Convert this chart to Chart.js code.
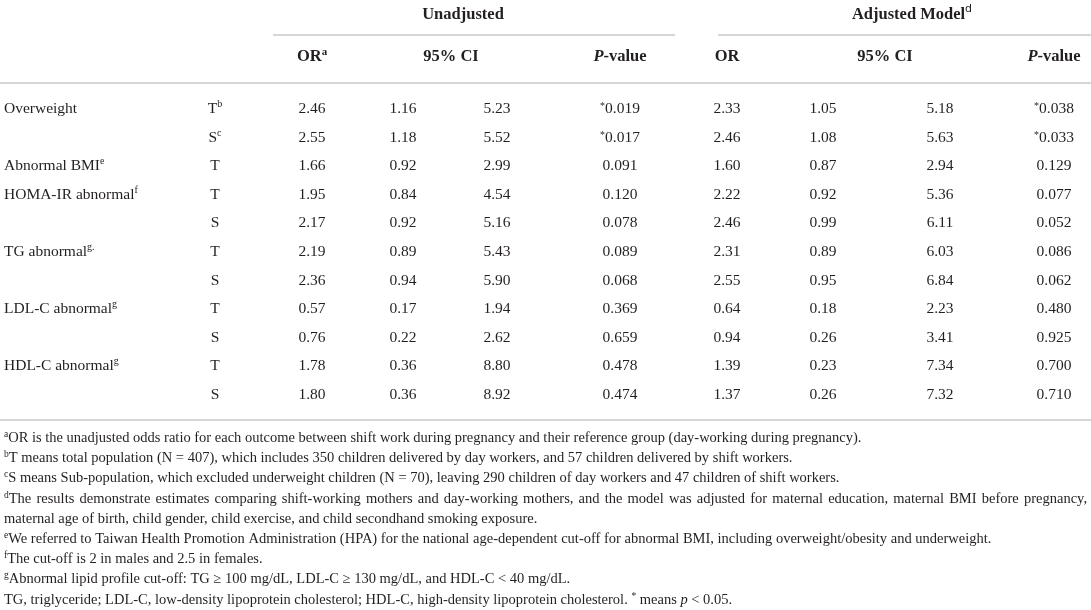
<!DOCTYPE html>
<html><head><meta charset="utf-8">
<script src="https://cdn.jsdelivr.net/npm/chart.js@4.4.1/dist/chart.umd.min.js"></script>
<style>html,body{margin:0;padding:0;background:#fff;}#wrap{position:relative;width:1091px;height:610px;}</style>
</head><body><div id="wrap"><canvas id="c"></canvas></div>
<script>
// ---- data ----
const outcomes   = ['Overweight','','Abnormal BMI','HOMA-IR abnormal','','TG abnormal','','LDL-C abnormal','','HDL-C abnormal',''];
const outcomeSup = ['','','e','f','','g.','','g','','g',''];
const groups     = ['T','S','T','T','S','T','S','T','S','T','S'];
const groupSup   = ['b','c','','','','','','','','',''];
const orUnadj    = ['2.46','2.55','1.66','1.95','2.17','2.19','2.36','0.57','0.76','1.78','1.80'];
const ciLowUnadj = ['1.16','1.18','0.92','0.84','0.92','0.89','0.94','0.17','0.22','0.36','0.36'];
const ciHighUnadj= ['5.23','5.52','2.99','4.54','5.16','5.43','5.90','1.94','2.62','8.80','8.92'];
const pUnadj     = ['*0.019','*0.017','0.091','0.120','0.078','0.089','0.068','0.369','0.659','0.478','0.474'];
const orAdj      = ['2.33','2.46','1.60','2.22','2.46','2.31','2.55','0.64','0.94','1.39','1.37'];
const ciLowAdj   = ['1.05','1.08','0.87','0.92','0.99','0.89','0.95','0.18','0.26','0.23','0.26'];
const ciHighAdj  = ['5.18','5.63','2.94','5.36','6.11','6.03','6.84','2.23','3.41','7.34','7.32'];
const pAdj       = ['*0.038','*0.033','0.129','0.077','0.052','0.086','0.062','0.480','0.925','0.700','0.710'];
const groupHeaders = ['Unadjusted','Adjusted Model'];
const columnHeaders = ['OR','95% CI','P-value','OR','95% CI','P-value'];
const footnoteMarks = ['a','b','c','d','','e','f','g',''];
const footnotes = [
 'OR is the unadjusted odds ratio for each outcome between shift work during pregnancy and their reference group (day-working during pregnancy).',
 'T means total population (N = 407), which includes 350 children delivered by day workers, and 57 children delivered by shift workers.',
 'S means Sub-population, which excluded underweight children (N = 70), leaving 290 children of day workers and 47 children of shift workers.',
 'The results demonstrate estimates comparing shift-working mothers and day-working mothers, and the model was adjusted for maternal education, maternal BMI before pregnancy,',
 'maternal age of birth, child gender, child exercise, and child secondhand smoking exposure.',
 'We referred to Taiwan Health Promotion Administration (HPA) for the national age-dependent cut-off for abnormal BMI, including overweight/obesity and underweight.',
 'The cut-off is 2 in males and 2.5 in females.',
 'Abnormal lipid profile cut-off: TG \u2265 100 mg/dL, LDL-C \u2265 130 mg/dL, and HDL-C < 40 mg/dL.',
 'TG, triglyceride; LDL-C, low-density lipoprotein cholesterol; HDL-C, high-density lipoprotein cholesterol.'
];
const rowKeys = outcomes.map((_, i) => 'row' + i);

// ---- layout (positions/styles only) ----
const colX = {label:4, group:215, or:312, lo:403, hi:497, p:620, or2:727, lo2:823, hi2:940, p2:1054};
const SERIF = '"Liberation Serif","DejaVu Serif",serif';
const TXT = '#231f20', RULE = '#c8c8c8';
const BODY = 15.5, FOOT = 14.5;
const f = (s, w, st) => `${st||'normal'} ${w||'normal'} ${s}px ${SERIF}`;

function partsWidth(ctx, parts){ let w=0; for(const p of parts){ctx.font=p.font; w+=ctx.measureText(p.t).width;} return w; }
function drawParts(ctx, parts, x, y, align){
  const w = partsWidth(ctx, parts);
  let cx = align==='center' ? x-w/2 : (align==='right' ? x-w : x);
  for(const p of parts){ ctx.font=p.font; ctx.fillText(p.t, cx, y+(p.dy||0)); cx += ctx.measureText(p.t).width; }
}
function cellParts(v){
  if (v.startsWith('*')) return [{t:'*',font:f(10),dy:-4},{t:v.slice(1),font:f(BODY)}];
  return [{t:v,font:f(BODY)}];
}

const tablePlugin = {
  id:'tableText',
  afterDraw(chart){
    const ctx = chart.ctx, xs = chart.scales.x, ys = chart.scales.y;
    const X = k => xs.getPixelForValue(colX[k]);
    ctx.save();
    ctx.fillStyle = TXT; ctx.textBaseline = 'alphabetic';
    // rules
    ctx.strokeStyle = RULE; ctx.lineWidth = 1.5;
    const hline = (x1,x2,y)=>{ctx.beginPath();ctx.moveTo(x1,y);ctx.lineTo(x2,y);ctx.stroke();};
    hline(xs.getPixelForValue(273), xs.getPixelForValue(675), 35);
    hline(xs.getPixelForValue(718), xs.getPixelForValue(1091), 35);
    hline(0, chart.width, 83);
    hline(0, chart.width, 420);
    // group headers
    drawParts(ctx, [{t:groupHeaders[0],font:f(16.5,'bold')}], xs.getPixelForValue(463), 19, 'center');
    drawParts(ctx, [{t:groupHeaders[1],font:f(16.5,'bold')},{t:'d',font:`normal 11px "DejaVu Sans",sans-serif`,dy:-7}], xs.getPixelForValue(912), 19, 'center');
    // column headers
    const hy = 61, hb = f(16.5,'bold');
    drawParts(ctx, [{t:columnHeaders[0],font:hb},{t:'a',font:f(11,'bold'),dy:-6}], X('or'), hy, 'center');
    drawParts(ctx, [{t:columnHeaders[1],font:hb}], xs.getPixelForValue(451), hy, 'center');
    drawParts(ctx, [{t:'P',font:f(16.5,'bold','italic')},{t:columnHeaders[2].slice(1),font:hb}], X('p'), hy, 'center');
    drawParts(ctx, [{t:columnHeaders[3],font:hb}], X('or2'), hy, 'center');
    drawParts(ctx, [{t:columnHeaders[4],font:hb}], xs.getPixelForValue(885), hy, 'center');
    drawParts(ctx, [{t:'P',font:f(16.5,'bold','italic')},{t:columnHeaders[5].slice(1),font:hb}], X('p2'), hy, 'center');
    // body rows
    outcomes.forEach((name, i) => {
      const y = ys.getPixelForValue(i) + 5;
      if (name) drawParts(ctx, [{t:name,font:f(BODY)},{t:outcomeSup[i],font:f(10),dy:-6}], X('label'), y, 'left');
      drawParts(ctx, [{t:groups[i],font:f(BODY)},{t:groupSup[i],font:f(10),dy:-6}], X('group'), y, 'center');
      drawParts(ctx, cellParts(orUnadj[i]), X('or'), y, 'center');
      drawParts(ctx, cellParts(ciLowUnadj[i]), X('lo'), y, 'center');
      drawParts(ctx, cellParts(ciHighUnadj[i]), X('hi'), y, 'center');
      drawParts(ctx, cellParts(pUnadj[i]), X('p'), y, 'center');
      drawParts(ctx, cellParts(orAdj[i]), X('or2'), y, 'center');
      drawParts(ctx, cellParts(ciLowAdj[i]), X('lo2'), y, 'center');
      drawParts(ctx, cellParts(ciHighAdj[i]), X('hi2'), y, 'center');
      drawParts(ctx, cellParts(pAdj[i]), X('p2'), y, 'center');
    });
    // footnotes
    const fy0 = 442, fdy = 20.2, fs = FOOT;
    footnotes.forEach((t, i) => {
      const y = fy0 + i*fdy;
      const sup = {t:footnoteMarks[i], font:f(9.5), dy:-5};
      if (i === 3) {
        const words = t.split(' ');
        ctx.font = sup.font; const sw = ctx.measureText(sup.t).width;
        ctx.font = f(fs);
        const ww = words.map(w => ctx.measureText(w).width);
        const total = ww.reduce((a,b)=>a+b,0) + sw;
        const gap = Math.max(2, (1087 - 4 - total) / (words.length - 1));
        ctx.font = sup.font; ctx.fillText(sup.t, 4, y + sup.dy);
        ctx.font = f(fs);
        let cx = 4 + sw;
        words.forEach((w, k) => { ctx.fillText(w, cx, y); cx += ww[k] + gap; });
      } else if (i === footnotes.length - 1) {
        drawParts(ctx, [{t:t+' ',font:f(fs)},{t:'*',font:f(9.5),dy:-5},{t:' means ',font:f(fs)},{t:'p',font:f(fs,'normal','italic')},{t:' < 0.05.',font:f(fs)}], 4, y, 'left');
      } else {
        drawParts(ctx, [sup, {t:t,font:f(fs)}], 4, y, 'left');
      }
    });
    ctx.restore();
  }
};

new Chart(document.getElementById('c'), {
  type: 'scatter',
  data: { datasets: [] },
  options: {
    responsive: true, maintainAspectRatio: false, animation: false,
    layout: { padding: { top: 93.7, bottom: 201.7, left: 0, right: 0 } },
    plugins: { legend: { display: false }, tooltip: { enabled: false } },
    scales: {
      x: { type: 'linear', min: 0, max: 1091, display: false },
      y: { type: 'category', labels: rowKeys, offset: true, display: false, reverse: false }
    }
  },
  plugins: [tablePlugin]
});
</script></body></html>
